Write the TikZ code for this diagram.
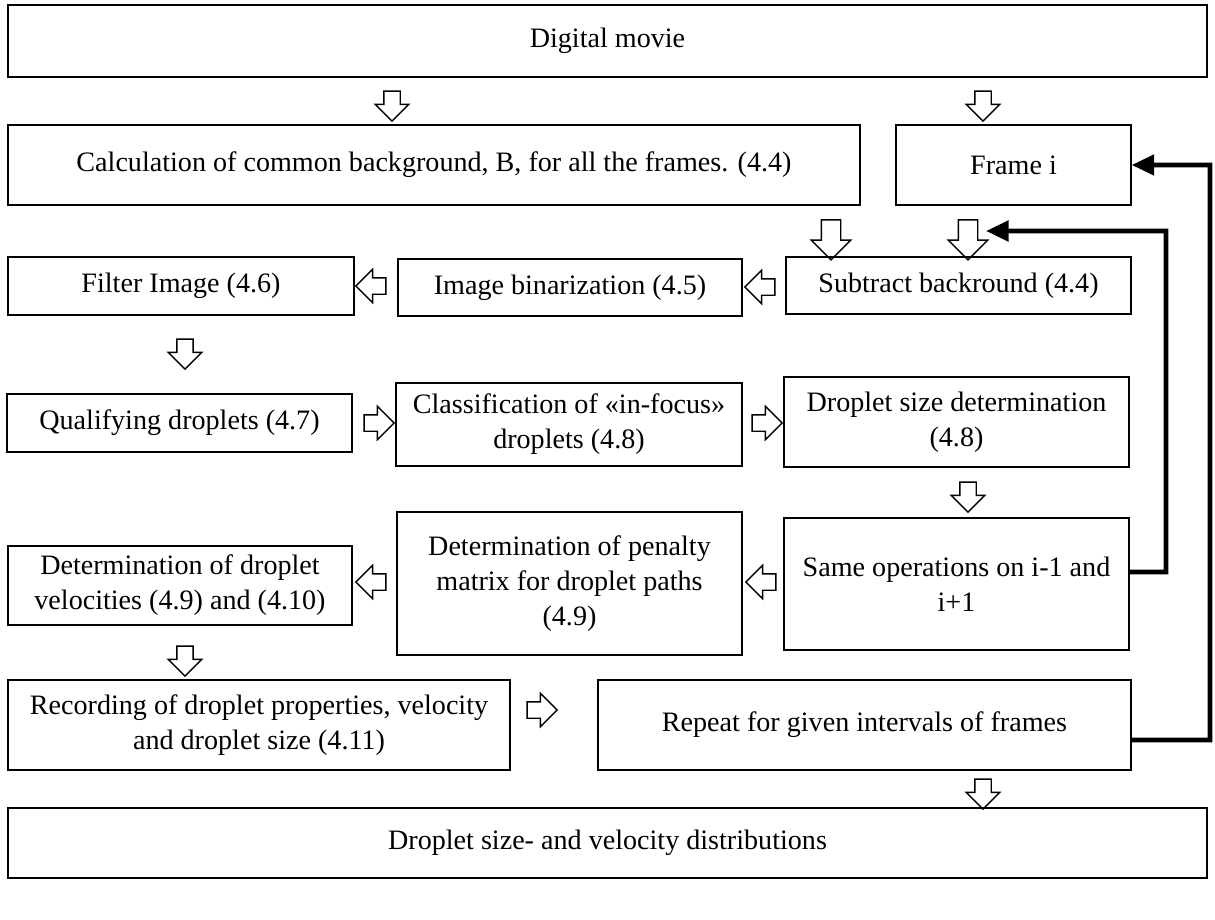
\documentclass[tikz,border=0pt]{standalone}
\usepackage{fontspec}
\setmainfont{Liberation Serif}
\usetikzlibrary{shapes.arrows,arrows.meta}

\tikzset{
  box/.style={draw, line width=0.8pt, align=center, inner sep=2pt,
    font=\fontsize{16}{20}\selectfont},
  sz/.style 2 args={minimum width=#1*0.02cm, minimum height=#2*0.02cm},
  flow/.style={single arrow, draw, line width=0.8pt, inner sep=0pt,
    minimum height=0.6cm, single arrow head extend=0.17cm},
  bigflow/.style={flow, minimum height=0.8cm, single arrow head extend=0.2cm},
  todown/.style={shape border rotate=270, inner xsep=#1, inner ysep=0pt},
  todown/.default=0.15cm,
  toleft/.style={shape border rotate=180, inner ysep=0.15cm, inner xsep=0pt},
  toright/.style={shape border rotate=0, inner ysep=0.15cm, inner xsep=0pt},
  fb/.style={line width=2.8pt, line join=miter,
    -{Triangle[length=0.45cm,width=0.4cm]}}
}

\begin{document}
\begin{tikzpicture}[x=0.02cm,y=-0.02cm]
\useasboundingbox (0,0) rectangle (1215,920);
% boxes
\node[box,sz={1199}{72}] (movie) at (607.5,41) {Digital movie};
\node[box,sz={852}{80}] (calc) at (434,165) {Calculation of common background, B, for all the frames. (4.4)};
\node[box,sz={235}{80}] (frame) at (1013.5,165) {Frame i};
\node[box,sz={346}{58}] (filter) at (181,286) {Filter Image (4.6)};
\node[box,sz={344}{57}] (binar) at (570,287.5) {Image binarization (4.5)};
\node[box,sz={345}{57}] (subtr) at (958.5,285.5) {Subtract backround (4.4)};
\node[box,sz={345}{58}] (qualif) at (179.5,423) {Qualifying droplets (4.7)};
\node[box,sz={346}{83}] (classif) at (569,424.5) {Classification of «in-focus»\\droplets (4.8)};
\node[box,sz={345}{90}] (dsize) at (956.5,422) {Droplet size determination\\(4.8)};
\node[box,sz={344}{79}] (veloc) at (180,585.5) {Determination of droplet\\velocities (4.9) and (4.10)};
\node[box,sz={345}{143}] (penalty) at (569.5,583.5) {Determination of penalty\\matrix for droplet paths\\(4.9)};
\node[box,sz={345}{132}] (sameops) at (956.5,584) {Same operations on i-1 and\\i+1};
\node[box,sz={502}{90}] (record) at (259,725) {Recording of droplet properties, velocity\\and droplet size (4.11)};
\node[box,sz={533}{90}] (repeat) at (864.5,725) {Repeat for given intervals of frames};
\node[box,sz={1199}{70}] (distrib) at (607.5,843) {Droplet size- and velocity distributions};

% hollow flow arrows
\node[flow,todown] (a1) at (392,102) {};
\node[flow,todown] (a2) at (983,102) {};
\node[bigflow,todown=0.18cm] (a3) at (831,235) {};
\node[bigflow,todown=0.18cm] (a4) at (968,235) {};
\node[flow,toleft] (a5) at (375,286) {};
\node[flow,toleft] (a6) at (764,287) {};
\node[flow,todown] (a7) at (185,350) {};
\node[flow,toright] (a8) at (375,423) {};
\node[flow,toright] (a9) at (763,423) {};
\node[flow,todown] (a10) at (968,493) {};
\node[flow,toleft] (a11) at (765,582) {};
\node[flow,toleft] (a12) at (375,582) {};
\node[flow,todown] (a13) at (185,657) {};
\node[flow,toright] (a14) at (538,710) {};
\node[flow,todown] (a15) at (983,790) {};

% feedback loops
\coordinate (in1) at (986,231);
\draw[fb] ([yshift=0.24cm]sameops.east) -- (1166,572) |- (in1);
\draw[fb] ([yshift=-0.3cm]repeat.east) -- (1210,740) |- (frame.east);
\end{tikzpicture}
\end{document}
